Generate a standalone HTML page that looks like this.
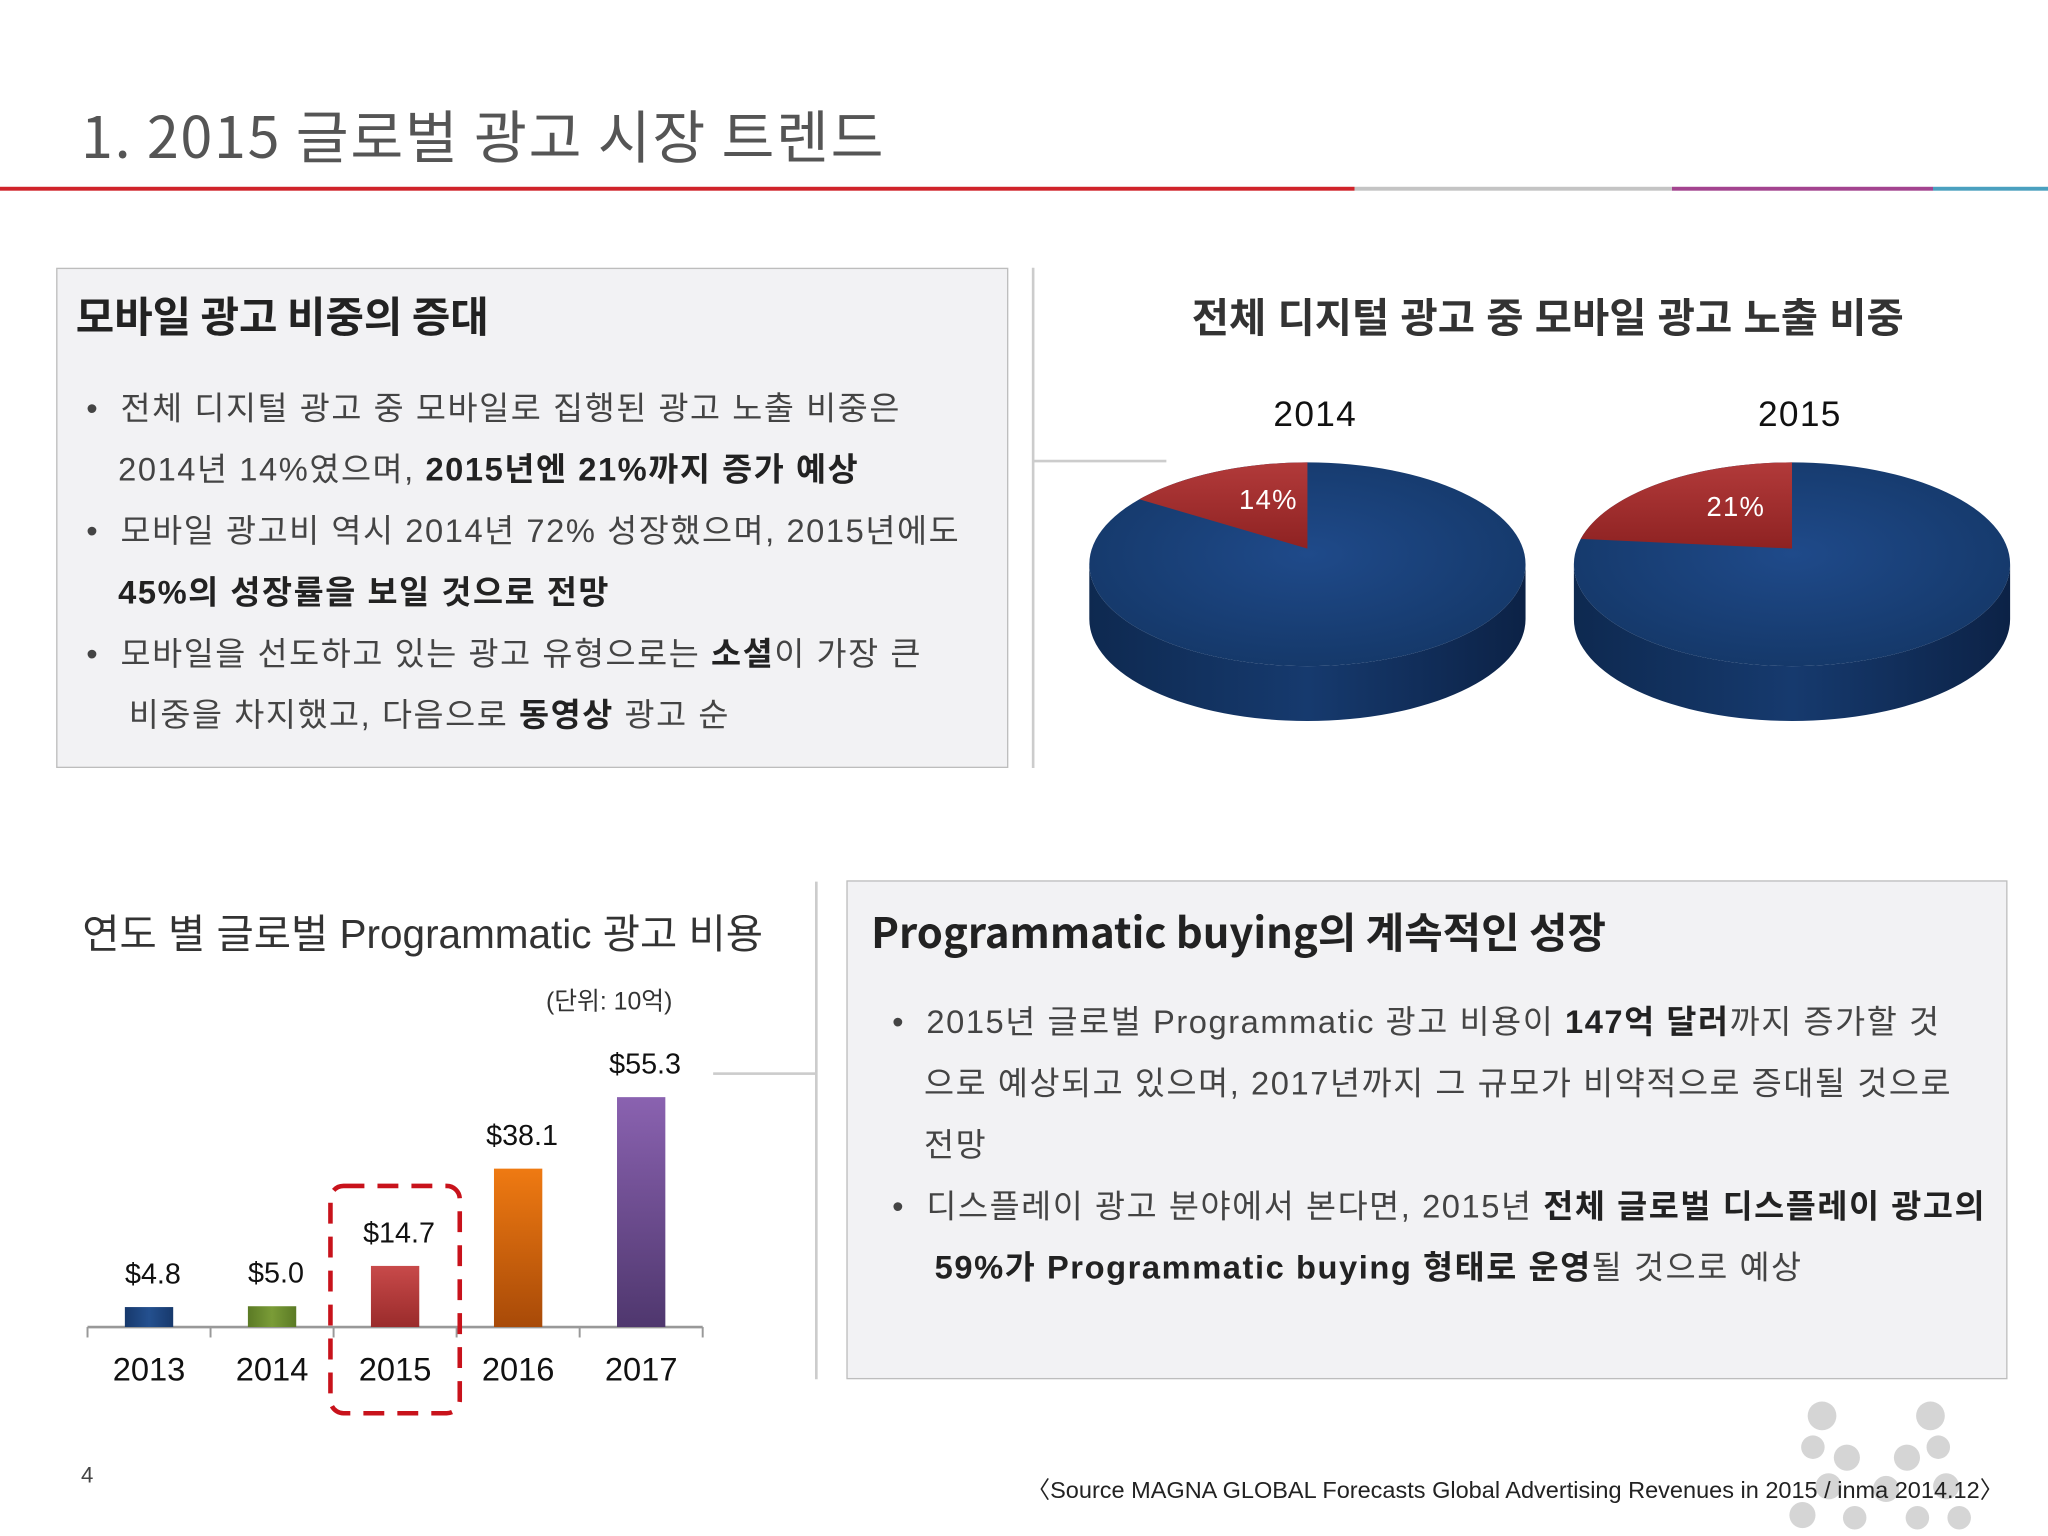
<!DOCTYPE html>
<html><head><meta charset="utf-8"><style>
html,body{margin:0;padding:0;width:2048px;height:1536px;overflow:hidden;background:#fff}
#s{position:absolute;left:0;top:0;width:1568px;height:1176px;transform:scale(1.306122);transform-origin:0 0;font-family:"Liberation Sans","Noto Sans CJK KR",sans-serif;color:#333}
.a{position:absolute;white-space:nowrap}
.box{position:absolute;background:#f2f2f4;border:1.5px solid #bdbdbd;box-sizing:border-box}
.bl{font-size:25px;color:#444;line-height:47px;letter-spacing:1.2px}
.bl b{color:#222}
</style></head><body><div id="s">
<div class="a" style="left:62px;top:70px;font-size:44px;color:#555;letter-spacing:1.3px;font-family:'Noto Sans CJK KR',sans-serif">1. 2015 글로벌 광고 시장 트렌드</div>
<div class="a" style="left:0;top:143px;width:1568px;height:3px;background:linear-gradient(90deg,#d0232a 0,#d0232a 1037px,#c4c4c4 1037px,#c4c4c4 1280px,#a3448f 1280px,#a3448f 1480px,#4aa0bf 1480px)"></div>

<div class="box" style="left:43px;top:205px;width:729px;height:383px"></div>
<div class="a" style="left:58px;top:218px;font-size:32px;font-weight:bold;color:#222;font-family:'Noto Sans CJK KR',sans-serif">모바일 광고 비중의 증대</div>
<div class="a bl" style="left:66px;top:290px">
<div>•&nbsp; 전체 디지털 광고 중 모바일로 집행된 광고 노출 비중은</div>
<div>&nbsp;&nbsp; 2014년 14%였으며, <b>2015년엔 21%까지 증가 예상</b></div>
<div>•&nbsp; 모바일 광고비 역시 2014년 72% 성장했으며, 2015년에도</div>
<div>&nbsp;&nbsp; <b>45%의 성장률을 보일 것으로 전망</b></div>
<div>•&nbsp; 모바일을 선도하고 있는 광고 유형으로는 <b>소셜</b>이 가장 큰</div>
<div>&nbsp;&nbsp;&nbsp; 비중을 차지했고, 다음으로 <b>동영상</b> 광고 순</div>
</div>
<div class="a" style="left:790px;top:205px;width:2px;height:383px;background:#ccc"></div>
<div class="a" style="left:791px;top:352px;width:102px;height:1.5px;background:#ccc"></div>
<div class="a" style="left:1185px;top:218px;transform:translateX(-50%);font-size:31px;color:#333;font-weight:bold">전체 디지털 광고 중 모바일 광고 노출 비중</div>

<svg class="a" style="left:0;top:0" width="1568" height="1176">
<defs>
<radialGradient id="pt" cx="50%" cy="45%" r="60%"><stop offset="0" stop-color="#1f4a8a"/><stop offset="1" stop-color="#143767"/></radialGradient>
<linearGradient id="ps" x1="0" x2="1"><stop offset="0" stop-color="#0e2950"/><stop offset=".5" stop-color="#163a6e"/><stop offset="1" stop-color="#0c2246"/></linearGradient>
<linearGradient id="pr" x1="0" y1="0" x2="0" y2="1"><stop offset="0" stop-color="#b23a3a"/><stop offset="1" stop-color="#8e2222"/></linearGradient>
</defs>
<g id="pies"></g>
</svg>

<div class="a" style="left:63px;top:690px;font-size:31px;color:#333">연도 별 글로벌 Programmatic 광고 비용</div>
<div class="a" style="left:418px;top:752px;font-size:19px;color:#333">(단위: 10억)</div>
<svg class="a" style="left:0;top:0" width="1568" height="1176"><defs>
<linearGradient id="g0" x1="0" x2="1"><stop offset="0" stop-color="#17396c"/><stop offset=".5" stop-color="#24508f"/><stop offset="1" stop-color="#17396c"/></linearGradient>
<linearGradient id="g1" x1="0" x2="1"><stop offset="0" stop-color="#5b7a25"/><stop offset=".5" stop-color="#7a9c37"/><stop offset="1" stop-color="#5b7a25"/></linearGradient>
<linearGradient id="g2" x1="0" y1="0" x2="0" y2="1"><stop offset="0" stop-color="#c84a4a"/><stop offset="1" stop-color="#9a2b2b"/></linearGradient>
<linearGradient id="g3" x1="0" y1="0" x2="0" y2="1"><stop offset="0" stop-color="#ef7a12"/><stop offset="1" stop-color="#a84a08"/></linearGradient>
<linearGradient id="g4" x1="0" y1="0" x2="0" y2="1"><stop offset="0" stop-color="#8a62b0"/><stop offset="1" stop-color="#4f376e"/></linearGradient>
</defs><g id="bars"></g>
<rect x="253" y="908" width="99" height="174" rx="10" fill="none" stroke="#c8121b" stroke-width="3.5" stroke-dasharray="16 10"/>
</svg>
<div class="a" style="left:624px;top:675px;width:2px;height:381px;background:#ccc"></div>
<div class="a" style="left:546px;top:821px;width:79px;height:1.5px;background:#ccc"></div>

<div class="box" style="left:648px;top:674px;width:889px;height:382px"></div>
<div class="a" style="left:667px;top:690px;font-size:32px;font-weight:bold;color:#222;font-family:'Noto Sans CJK KR',sans-serif">Programmatic buying의 계속적인 성장</div>
<div class="a bl" style="left:683px;top:760px">
<div>•&nbsp; 2015년 글로벌 Programmatic 광고 비용이 <b>147억 달러</b>까지 증가할 것</div>
<div>&nbsp;&nbsp; 으로 예상되고 있으며, 2017년까지 그 규모가 비약적으로 증대될 것으로</div>
<div>&nbsp;&nbsp; 전망</div>
<div>•&nbsp; 디스플레이 광고 분야에서 본다면, 2015년 <b>전체 글로벌 디스플레이 광고의</b></div>
<div>&nbsp;&nbsp;&nbsp; <b>59%가 Programmatic buying 형태로 운영</b>될 것으로 예상</div>
</div>
<svg class="a" style="left:1360px;top:1070px" width="160" height="106" opacity=".35">
<g fill="#888"><circle cx="35" cy="14" r="11"/><circle cx="118" cy="14" r="11"/><circle cx="28" cy="38" r="9"/><circle cx="54" cy="46" r="10"/><circle cx="100" cy="46" r="10"/><circle cx="124" cy="38" r="9"/><circle cx="40" cy="68" r="10"/><circle cx="84" cy="70" r="10"/><circle cx="130" cy="68" r="10"/><circle cx="20" cy="90" r="10"/><circle cx="60" cy="92" r="9"/><circle cx="108" cy="92" r="9"/><circle cx="140" cy="92" r="9"/></g></svg>
<div class="a" style="left:62px;top:1120px;font-size:17px;color:#444">4</div>
<div class="a" style="left:786px;top:1127px;font-size:18px;color:#222">〈Source MAGNA GLOBAL Forecasts Global Advertising Revenues in 2015 / inma 2014.12〉</div>
</div>
<script>
const pieYears=["2014","2015"];
const pieShares=[14,21];
const pieLabels=["14%","21%"];
const years=["2013","2014","2015","2016","2017"];
const values=[4.8,5.0,14.7,38.1,55.3];
const valueLabels=["$4.8","$5.0","$14.7","$38.1","$55.3"];
const NS="http://www.w3.org/2000/svg";
function mk(t,a,p){const e=document.createElementNS(NS,t);for(const k in a)e.setAttribute(k,a[k]);p.appendChild(e);return e;}
const pg=document.getElementById('pies');
const pcx=[1001,1372],pcy=432,rx=167,ry=78,dep=42;
pieShares.forEach((v,i)=>{
  const cx=pcx[i];
  const side=mk('path',{d:`M${cx-rx},${pcy} L${cx-rx},${pcy+dep} A${rx},${ry} 0 0 0 ${cx+rx},${pcy+dep} L${cx+rx},${pcy} A${rx},${ry} 0 0 1 ${cx-rx},${pcy} Z`,fill:'url(#ps)'},pg);
  
  
  const top=mk('ellipse',{cx:cx,cy:pcy,rx:rx,ry:ry,fill:'url(#pt)'},pg);
  
  
  const a=v/100*2*Math.PI;
  const ex=cx-rx*Math.sin(a),ey=pcy-ry*Math.cos(a);
  const w=mk('path',{d:`M${cx},${pcy-12} L${cx},${pcy-ry} A${rx},${ry} 0 0 0 ${ex},${ey} Z`,fill:'url(#pr)'},pg);
  
  
  const lx=cx-rx*0.42*Math.sin(a/2),ly=pcy-ry*0.6*Math.cos(a/2);
  const t=mk('text',{x:lx,y:ly,'text-anchor':'middle','font-size':21,fill:'#fff','font-family':'Liberation Sans, sans-serif','letter-spacing':1},pg);
  t.textContent=pieLabels[i];
  
  
  const yl=mk('text',{x:cx+6,y:326,'text-anchor':'middle','font-size':27,fill:'#111','font-family':'Liberation Sans, sans-serif','letter-spacing':1},pg);
  yl.textContent=pieYears[i];
  
  
});
const bg=document.getElementById('bars');
const x0=67,step=94.2,base=1016,scale=176/55.3,bw=37;
const xc=i=>x0+step*(i+0.5);
const yv=v=>base-v*scale;
const ax=mk('line',{x1:x0,x2:x0+step*5,y1:base,y2:base,stroke:'#999','stroke-width':2},bg);


for(let k=0;k<=5;k++){const tk=mk('line',{x1:x0+step*k,x2:x0+step*k,y1:base,y2:base+8,stroke:'#999','stroke-width':1.5},bg);

}
values.forEach((v,i)=>{
  const r=mk('rect',{x:xc(i)-bw/2,y:yv(v),width:bw,height:base-yv(v),fill:`url(#g${i})`},bg);
  
  
  const t=mk('text',{x:xc(i)+3,y:yv(v)-18,'text-anchor':'middle','font-size':22,fill:'#111','font-family':'Liberation Sans, sans-serif'},bg);
  t.textContent=valueLabels[i];
  
  
  const y=mk('text',{x:xc(i),y:1057,'text-anchor':'middle','font-size':25,fill:'#111','font-family':'Liberation Sans, sans-serif'},bg);
  y.textContent=years[i];
  
  
});
</script>
</body></html>
